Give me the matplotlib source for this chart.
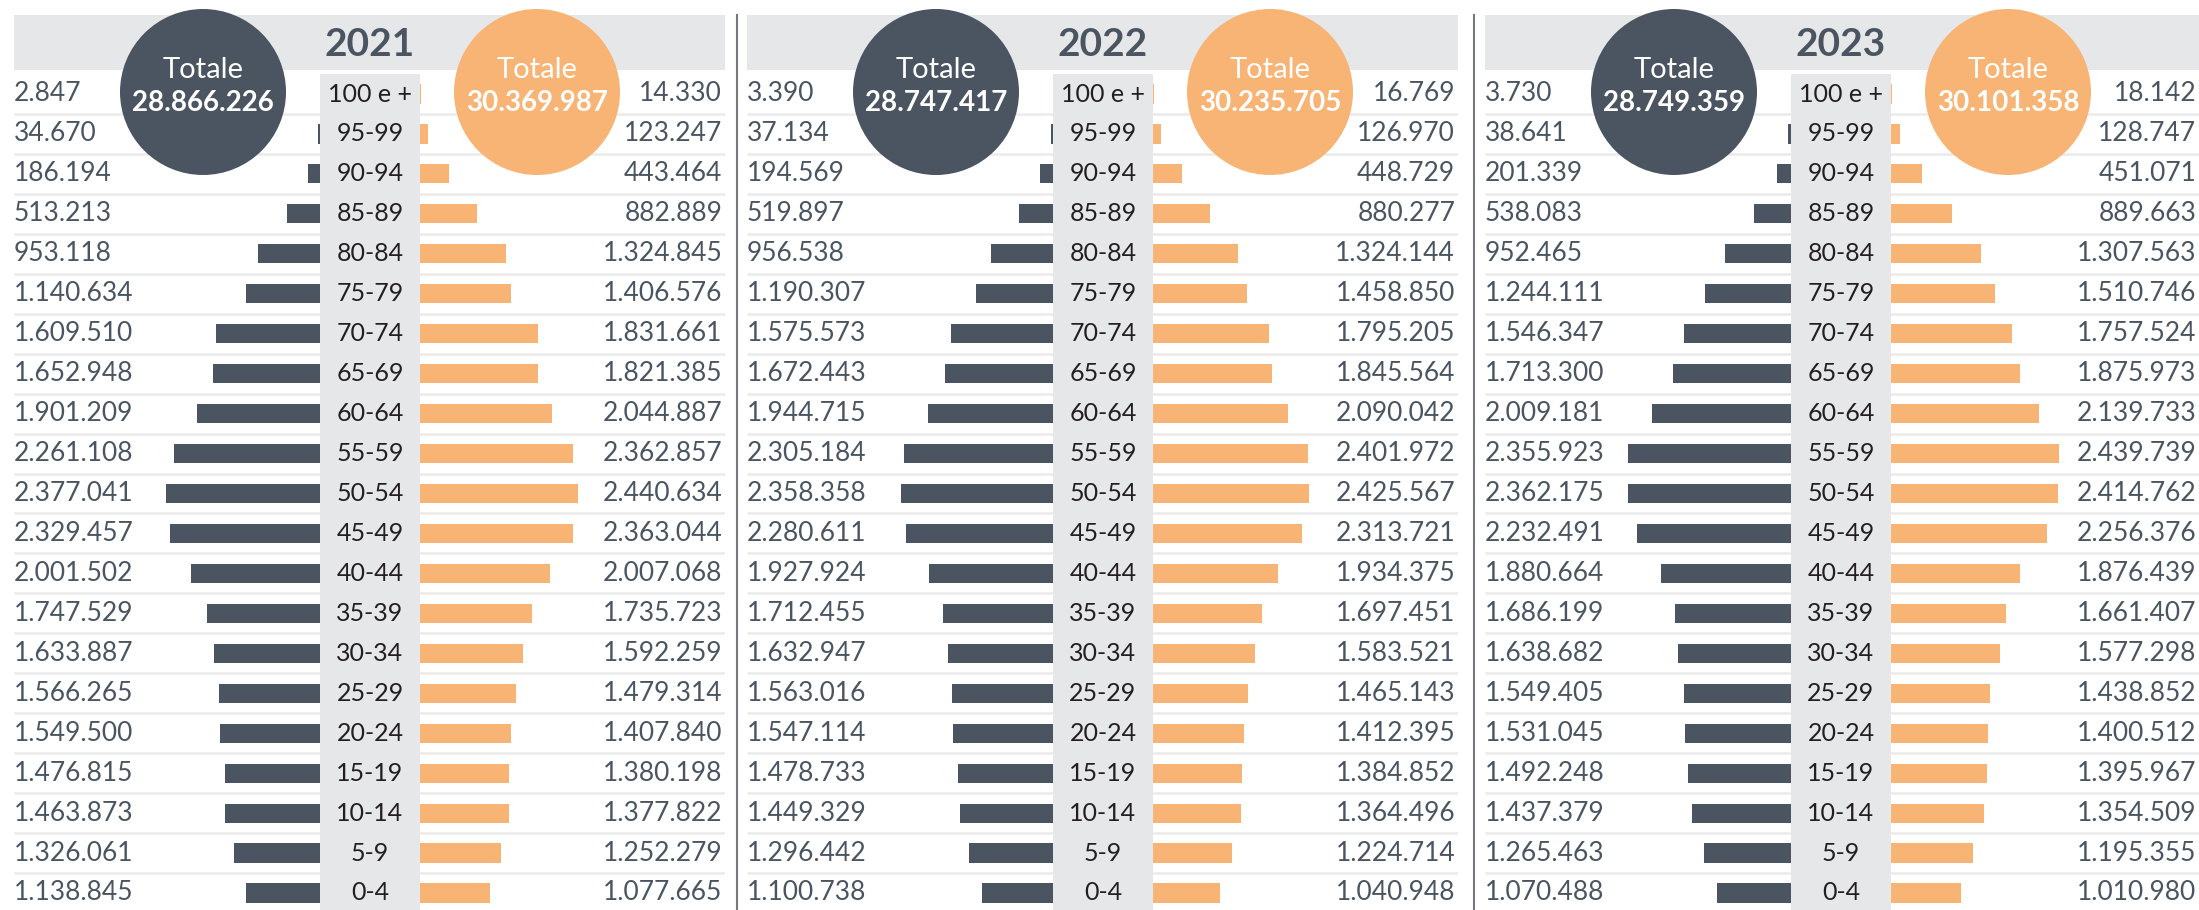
import numpy as np
import matplotlib.pyplot as plt
from matplotlib.patches import Rectangle, Ellipse
from matplotlib.lines import Line2D

plt.rcParams['font.family'] = ['Lato', 'DejaVu Sans']

# age classes, top to bottom
ages = ['100 e +', '95-99', '90-94', '85-89', '80-84', '75-79', '70-74', '65-69',
        '60-64', '55-59', '50-54', '45-49', '40-44', '35-39', '30-34', '25-29',
        '20-24', '15-19', '10-14', '5-9', '0-4']

years = ['2021', '2022', '2023']

males_2021 = [2847, 34670, 186194, 513213, 953118, 1140634, 1609510, 1652948,
              1901209, 2261108, 2377041, 2329457, 2001502, 1747529, 1633887,
              1566265, 1549500, 1476815, 1463873, 1326061, 1138845]
females_2021 = [14330, 123247, 443464, 882889, 1324845, 1406576, 1831661, 1821385,
                2044887, 2362857, 2440634, 2363044, 2007068, 1735723, 1592259,
                1479314, 1407840, 1380198, 1377822, 1252279, 1077665]

males_2022 = [3390, 37134, 194569, 519897, 956538, 1190307, 1575573, 1672443,
              1944715, 2305184, 2358358, 2280611, 1927924, 1712455, 1632947,
              1563016, 1547114, 1478733, 1449329, 1296442, 1100738]
females_2022 = [16769, 126970, 448729, 880277, 1324144, 1458850, 1795205, 1845564,
                2090042, 2401972, 2425567, 2313721, 1934375, 1697451, 1583521,
                1465143, 1412395, 1384852, 1364496, 1224714, 1040948]

males_2023 = [3730, 38641, 201339, 538083, 952465, 1244111, 1546347, 1713300,
              2009181, 2355923, 2362175, 2232491, 1880664, 1686199, 1638682,
              1549405, 1531045, 1492248, 1437379, 1265463, 1070488]
females_2023 = [18142, 128747, 451071, 889663, 1307563, 1510746, 1757524, 1875973,
                2139733, 2439739, 2414762, 2256376, 1876439, 1661407, 1577298,
                1438852, 1400512, 1395967, 1354509, 1195355, 1010980]

total_males = [28866226, 28747417, 28749359]
total_females = [30369987, 30235705, 30101358]

males = [males_2021, males_2022, males_2023]
females = [females_2021, females_2022, females_2023]

DARK = '#4a5561'
ORANGE = '#f8b475'
BAND = '#e6e7e8'
TXT = '#4a5561'

W, H = 2199, 910
fig = plt.figure(figsize=(W / 100, H / 100), dpi=100)


def fx(px):
    return px / W


def fy(py):
    return 1 - py / H


def fmt(v):
    return f'{v:,}'.replace(',', '.')


# layout in pixels
panel_left = [14, 747, 1485]
panel_width = [711, 711, 714]
px_per_m = [64.6, 64.5, 69.0]
box_off, box_w = 306, 100
row0, row_step = 94, 39.95

y = np.arange(len(ages))

for i in range(3):
    left, width, ppm = panel_left[i], panel_width[i], px_per_m[i]
    cx = box_off + box_w / 2
    ax = fig.add_axes([fx(left), 0, fx(width), 1])
    ax.set_xlim(-cx / ppm, (width - cx) / ppm)
    ax.set_ylim(len(ages) - 1 + (H - (row0 + (len(ages) - 1) * row_step)) / row_step,
                -row0 / row_step)
    ax.axis('off')
    gap = (box_w / 2) / ppm

    m = np.array(males[i]) / 1e6
    f = np.array(females[i]) / 1e6
    ax.hlines(y[:-1] + 0.5, 0, 1, transform=ax.get_yaxis_transform(),
              color='#ececec', lw=2, zorder=1)
    ax.barh(y, -m, left=-gap, height=0.48, color=DARK, zorder=2)
    ax.barh(y, f, left=gap, height=0.48, color=ORANGE, zorder=2)

    tr = ax.get_yaxis_transform()
    for k in range(len(ages)):
        ax.text(0, y[k], fmt(males[i][k]), transform=tr, ha='left', va='center',
                fontsize=19, color=TXT)
        ax.text(0.996, y[k], fmt(females[i][k]), transform=tr, ha='right', va='center',
                fontsize=19, color=TXT)

    # header band
    fig.add_artist(Rectangle((fx(left), fy(70)), fx(width), (70 - 15) / H,
                             facecolor=BAND, edgecolor='none', zorder=1))
    # central label box
    fig.add_artist(Rectangle((fx(left + box_off), 0), fx(box_w), fy(74),
                             facecolor=BAND, edgecolor='none', zorder=1))
    bx = left + cx
    fig.text(fx(bx), fy(44), years[i], ha='center', va='center', fontsize=28,
             fontweight='bold', color=TXT, zorder=3)
    for k in range(len(ages)):
        fig.text(fx(bx), fy(row0 + k * row_step), ages[k], ha='center', va='center',
                 fontsize=18, color='#231f20', zorder=3)

    # total circles
    r = 83
    for dx, col, tot in [(-167, DARK, total_males[i]), (167, ORANGE, total_females[i])]:
        fig.add_artist(Ellipse((fx(bx + dx), fy(92)), 2 * r / W, 2 * r / H,
                               facecolor=col, edgecolor='none', zorder=2))
        fig.text(fx(bx + dx), fy(70), 'Totale', ha='center', va='center',
                 fontsize=21, color='white', zorder=3)
        fig.text(fx(bx + dx), fy(103), fmt(tot), ha='center', va='center',
                 fontsize=20, fontweight='bold', color='white', zorder=3)

# panel dividers
for xd in [737, 1474]:
    fig.add_artist(Line2D([fx(xd), fx(xd)], [fy(15), 0], color='#77787b', lw=1.5, zorder=1))

fig.savefig('out.png', dpi=100)
